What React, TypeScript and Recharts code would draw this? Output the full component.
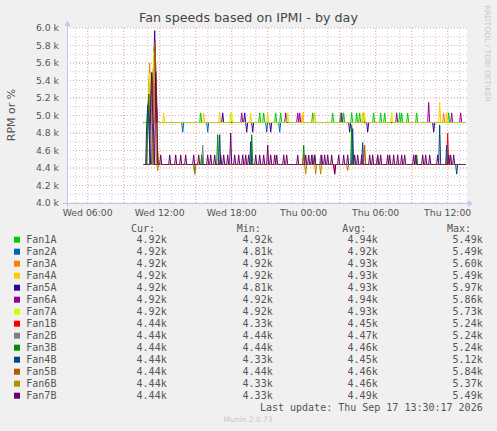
import React from "react";
import { LineChart, Line, XAxis, YAxis, CartesianGrid } from "recharts";

// series, in the order munin draws them
const seriesNames = ["Fan1A", "Fan2A", "Fan3A", "Fan4A", "Fan5A", "Fan6A", "Fan7A", "Fan1B", "Fan2B", "Fan3B", "Fan4B", "Fan5B", "Fan6B", "Fan7B"];
const seriesColors = ["#00CC00", "#0066B3", "#FF8000", "#FFCC00", "#330099", "#990099", "#CCFF00", "#FF0000", "#808080", "#008F00", "#00487D", "#B35A00", "#B38F00", "#6B006B"];

// resting speeds (k rpm) of the A and B fans
const baseA = 4.92;
const baseB = 4.44;
const baselines = [baseA, baseA, baseA, baseA, baseA, baseA, baseA, baseB, baseB, baseB, baseB, baseB, baseB, baseB];

// samples every 5 minutes, Wed 10:40 .. Thu 13:30 (minutes since Wed 00:00)
const startMinute = 640;
const endMinute = 2250;
const stepMinutes = 5;

// [hour since Wed 00:00, k rpm] where a fan leaves its resting speed
const fan1A: [number, number][] = [
  [11.25, 5.3], [11.33, 5.49], [11.42, 5.1],
  [15.44, 5.03], [20.3, 5.03], [20.69, 5.03], [21.63, 5.03], [22.05, 5.03], [24.75, 5.03], [26.44, 5.03],
  [27.05, 5.03], [27.36, 5.03], [27.97, 5.03], [28.38, 5.03], [28.67, 5.03], [29.86, 5.03], [30.42, 5.03],
  [30.75, 5.03], [32.0, 5.03], [32.19, 5.03], [32.69, 5.03], [33.38, 5.03], [36.11, 5.03],
];
const fan2A: [number, number][] = [
  [11.08, 5.2], [11.17, 5.49], [11.25, 5.0],
  [13.88, 4.81], [15.98, 4.81], [20.92, 4.81], [21.97, 4.81],
];
const fan3A: [number, number][] = [
  [11.08, 5.3], [11.17, 5.6], [11.25, 5.2], [11.67, 5.4], [11.75, 5.1],
  [23.94, 5.03], [29.03, 5.03], [35.63, 5.03],
];
const fan4A: [number, number][] = [
  [11.17, 5.3], [11.25, 5.49], [11.33, 5.2],
  [12.36, 5.03], [15.63, 5.03], [16.97, 5.03], [17.94, 5.03], [19.55, 5.03], [21.0, 5.03], [22.67, 5.03],
  [23.92, 5.03], [24.88, 5.03], [28.94, 5.03], [31.3, 5.03], [35.36, 5.15], [35.92, 5.03],
];
const fan5A: [number, number][] = [
  [11.42, 5.4], [11.5, 5.6], [11.58, 5.97], [11.67, 5.5], [11.75, 5.1],
  [17.25, 5.03], [19.1, 5.03], [19.25, 4.81], [19.72, 4.81], [21.28, 4.81], [27.83, 4.81], [29.36, 4.81], [34.8, 4.81],
];
const fan6A: [number, number][] = [
  [11.33, 5.3], [11.42, 5.1], [11.5, 5.45], [11.58, 5.86], [11.67, 5.4],
  [18.86, 5.03], [22.53, 5.03], [23.53, 5.03], [23.69, 5.03], [27.13, 5.03], [31.72, 5.03], [34.44, 5.15],
  [36.36, 5.03], [37.08, 5.03],
];
const fan7A: [number, number][] = [
  [11.08, 5.2], [11.17, 5.48], [11.25, 5.3], [11.5, 5.73], [11.58, 5.3],
  [18.03, 5.03], [22.69, 5.03], [29.08, 5.03], [31.32, 5.03],
];
const fan1B: [number, number][] = [
  [11.0, 4.9], [11.08, 5.24], [11.17, 4.7],
  [26.58, 4.33], [35.97, 4.8],
];
const fan2B: [number, number][] = [
  [11.33, 5.24], [11.42, 4.8],
  [15.57, 4.66], [24.75, 4.55], [25.44, 4.55], [30.13, 4.55],
];
const fan3B: [number, number][] = [
  [11.0, 5.0], [11.08, 5.24], [11.17, 4.6],
  [15.53, 4.55], [16.86, 4.78], [19.69, 4.78], [23.98, 4.66], [24.88, 4.55], [28.03, 4.89], [33.45, 4.55],
];
const fan4B: [number, number][] = [
  [10.92, 4.9], [11.0, 5.12], [11.08, 5.0], [11.17, 4.6], [11.42, 4.9], [11.5, 4.5],
  [14.94, 4.33], [16.97, 4.78], [19.61, 4.7], [28.08, 4.85], [28.94, 4.69], [35.36, 4.89], [35.92, 4.66], [36.75, 4.33],
];
const fan5B: [number, number][] = [
  [11.5, 5.2], [11.58, 5.84], [11.67, 5.6], [11.75, 5.2], [11.83, 4.6],
  [24.0, 4.55], [29.06, 4.66],
];
const fan6B: [number, number][] = [
  [11.5, 5.0], [11.58, 5.37], [11.67, 5.0], [11.83, 4.37],
  [14.94, 4.33], [24.13, 4.33], [24.97, 4.33], [25.44, 4.33], [27.63, 4.37], [36.1, 4.55],
];
const fan7B: [number, number][] = [
  [11.25, 5.2], [11.33, 5.49], [11.42, 5.0], [11.5, 4.8], [11.67, 5.49], [11.75, 5.0],
  [12.08, 4.55], [12.8, 4.55], [13.36, 4.55], [13.75, 4.55], [14.13, 4.55], [14.86, 4.55], [15.22, 4.55],
  [15.97, 4.55], [16.28, 4.55], [16.61, 4.55], [17.08, 4.55], [17.36, 4.55], [17.67, 4.55], [17.94, 4.8],
  [18.28, 4.55], [18.61, 4.55], [18.92, 4.55], [19.19, 4.55], [19.42, 4.55], [20.03, 4.55], [20.3, 4.55],
  [20.63, 4.55], [21.0, 4.66], [21.28, 4.55], [21.55, 4.55], [21.78, 4.55], [22.33, 4.55], [22.61, 4.55],
  [23.53, 4.55], [24.13, 4.55], [24.42, 4.55], [24.69, 4.55], [24.92, 4.55], [25.47, 4.55], [25.78, 4.55],
  [26.03, 4.55], [26.3, 4.55], [26.58, 4.33], [26.92, 4.55], [27.36, 4.55], [27.63, 4.55], [28.25, 4.55],
  [28.53, 4.55], [28.8, 4.55], [29.5, 4.55], [29.78, 4.55], [30.13, 4.55], [30.42, 4.55], [30.97, 4.55],
  [31.17, 4.55], [31.53, 4.55], [31.8, 4.55], [32.17, 4.55], [32.44, 4.55], [33.17, 4.55], [33.33, 4.55],
  [33.88, 4.55], [34.19, 4.55], [34.47, 4.55], [35.13, 4.55], [36.05, 4.55], [36.25, 4.55], [36.53, 4.55],
];
const spikeLists = [fan1A, fan2A, fan3A, fan4A, fan5A, fan6A, fan7A, fan1B, fan2B, fan3B, fan4B, fan5B, fan6B, fan7B];

// legend table
const legendCur = ["4.92k", "4.92k", "4.92k", "4.92k", "4.92k", "4.92k", "4.92k", "4.44k", "4.44k", "4.44k", "4.44k", "4.44k", "4.44k", "4.44k"];
const legendMin = ["4.92k", "4.81k", "4.92k", "4.92k", "4.81k", "4.92k", "4.92k", "4.33k", "4.44k", "4.44k", "4.33k", "4.44k", "4.33k", "4.33k"];
const legendAvg = ["4.94k", "4.92k", "4.93k", "4.93k", "4.93k", "4.94k", "4.93k", "4.45k", "4.47k", "4.46k", "4.45k", "4.46k", "4.46k", "4.49k"];
const legendMax = ["5.49k", "5.49k", "5.60k", "5.49k", "5.97k", "5.86k", "5.73k", "5.24k", "5.24k", "5.24k", "5.12k", "5.84k", "5.37k", "5.49k"];

const xTicks = [6, 12, 18, 24, 30, 36];
const yTicks = [4.0, 4.2, 4.4, 4.6, 4.8, 5.0, 5.2, 5.4, 5.6, 5.8, 6.0];
const xDomain: [number, number] = [4.275, 37.61];

const minorX = Array.from({ length: 33 }, (_, i) => 5 + i);
const majorX = Array.from({ length: 11 }, (_, i) => 6 + i * 3);
const minorY = Array.from({ length: 19 }, (_, i) => +(4.1 + i * 0.1).toFixed(1));

const SANS = "DejaVu Sans";
const MONO = "DejaVu Sans Mono";
const TEXT = "#555";

function buildRows() {
  const count = (endMinute - startMinute) / stepMinutes + 1;
  const rows: Record<string, number>[] = [];
  for (let i = 0; i < count; i++) {
    const row: Record<string, number> = { t: (startMinute + i * stepMinutes) / 60 };
    seriesNames.forEach((name, s) => {
      row[name] = baselines[s];
    });
    rows.push(row);
  }
  spikeLists.forEach((list, s) => {
    list.forEach(([h, v]) => {
      const i = Math.round((h * 60 - startMinute) / stepMinutes);
      if (rows[i]) rows[i][seriesNames[s]] = v;
    });
  });
  return rows;
}

const formatX = (h: number) => {
  const day = h < 24 ? "Wed" : "Thu";
  const hh = String(h % 24).padStart(2, "0");
  return `${day} ${hh}:00`;
};

export default function App() {
  const rows = buildRows();
  const rowY = (i: number) => 239.7 + i * 12;

  return (
    <div style={{ position: "fixed", left: 0, top: 0, width: 497, height: 431, background: "#f0f0f0", overflow: "hidden" }}>
      <LineChart width={497} height={230} data={rows} margin={{ top: 28, right: 30, bottom: 0, left: 0 }}>
        <CartesianGrid
          fill="#ffffff"
          stroke="#c8c8c8"
          strokeDasharray="1 2"
          horizontalValues={minorY}
          verticalValues={minorX}
        />
        <CartesianGrid
          stroke="#e8a8a8"
          strokeDasharray="1 2"
          horizontalValues={yTicks}
          verticalValues={majorX}
        />
        <XAxis
          dataKey="t"
          type="number"
          domain={xDomain}
          allowDataOverflow
          ticks={xTicks}
          interval={0}
          tickFormatter={formatX}
          axisLine={false}
          tickLine={false}
          tickSize={6}
          tickMargin={0}
          height={27}
          tick={{ fontSize: 9.3, fill: TEXT, fontFamily: SANS }}
        />
        <YAxis
          type="number"
          domain={[4, 6]}
          allowDataOverflow
          ticks={yTicks}
          interval={0}
          width={67}
          axisLine={false}
          tickLine={false}
          tickFormatter={(v: number) => `${v.toFixed(1)} k`}
          tick={{ fontSize: 9.3, fill: TEXT, fontFamily: SANS }}
        />
        {seriesNames.map((name, s) => (
          <Line
            key={name}
            dataKey={name}
            type="linear"
            stroke={seriesColors[s]}
            strokeWidth={1}
            dot={false}
            activeDot={false}
            isAnimationActive={false}
          />
        ))}
      </LineChart>

      <svg width={497} height={431} style={{ position: "absolute", left: 0, top: 0, pointerEvents: "none" }}>
        {/* axes with arrow heads */}
        <line x1={63} y1={203.5} x2={469} y2={203.5} stroke="#c4c4f0" strokeWidth={1} />
        <polygon points="468,200.5 473,203.5 468,206.5" fill="#c4c4f0" />
        <line x1={67.5} y1={207} x2={67.5} y2={25} stroke="#c4c4f0" strokeWidth={1} />
        <polygon points="64.5,26 67.5,21 70.5,26" fill="#c4c4f0" />

        <text x={248.5} y={22} textAnchor="middle" fontFamily={SANS} fontSize={12.7} fill="#444">
          Fan speeds based on IPMI - by day
        </text>
        <text transform="translate(15,115) rotate(-90)" textAnchor="middle" fontFamily={SANS} fontSize={11} fill={TEXT}>
          RPM or %
        </text>
        <text transform="translate(485,102) rotate(90)" textAnchor="end" fontFamily={SANS} fontSize={7.5} fill="#c8c8c8">
          RRDTOOL / TOBI OETIKER
        </text>

        <g fontFamily={MONO} fontSize={10} fill={TEXT}>
          <text x={131} y={231.6}>Cur:</text>
          <text x={236.7} y={231.6}>Min:</text>
          <text x={342.3} y={231.6}>Avg:</text>
          <text x={447} y={231.6}>Max:</text>
          {seriesNames.map((name, i) => (
            <g key={name}>
              <rect x={14} y={rowY(i) - 3} width={6} height={6} fill={seriesColors[i]} />
              <text x={26.3} y={rowY(i) + 3.6}>{name}</text>
              <text x={166.7} y={rowY(i) + 3.6} textAnchor="end">{legendCur[i]}</text>
              <text x={272.7} y={rowY(i) + 3.6} textAnchor="end">{legendMin[i]}</text>
              <text x={377.7} y={rowY(i) + 3.6} textAnchor="end">{legendAvg[i]}</text>
              <text x={482.7} y={rowY(i) + 3.6} textAnchor="end">{legendMax[i]}</text>
            </g>
          ))}
          <text x={482.7} y={411.3} textAnchor="end">Last update: Thu Sep 17 13:30:17 2026</text>
        </g>
        <text x={248} y={422.3} textAnchor="middle" fontFamily={SANS} fontSize={7.5} fill="#c8c8c8">
          Munin 2.0.73
        </text>
      </svg>
    </div>
  );
}
